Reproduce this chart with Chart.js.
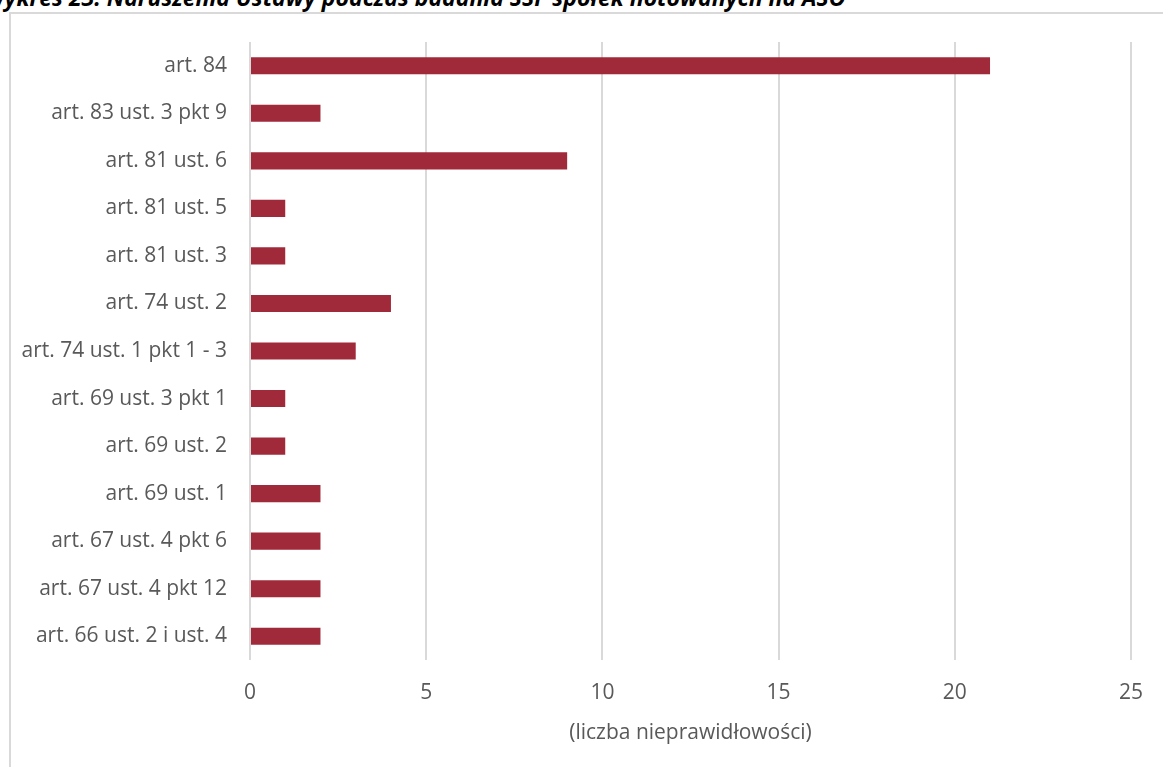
<!DOCTYPE html>
<html lang="pl">
<head>
<meta charset="utf-8">
<title>Naruszenia Ustawy</title>
<script src="https://cdn.jsdelivr.net/npm/chart.js@4.4.1/dist/chart.umd.min.js"></script>
<style>
  html, body { margin: 0; padding: 0; background: #fff; overflow: hidden; }
  #wrap { position: relative; width: 1163px; height: 767px; overflow: hidden; }
  #title {
    position: absolute; left: -16px; top: -14px; white-space: nowrap;
    font: italic bold 23px/23px "Open Sans", "Liberation Sans", sans-serif; color: #000;
  }
  #frame {
    position: absolute; left: 9px; top: 12px; width: 1200px; height: 800px;
    border: 2px solid #d9d9d9; box-sizing: border-box;
  }
  #myChart { position: absolute; left: 0; top: 0; }
</style>
</head>
<body>
<div id="wrap">
  <div id="frame"></div>
  <div id="title">Wykres 23. Naruszenia Ustawy podczas badania SSF spółek notowanych na ASO</div>
  <canvas id="myChart" width="1163" height="767"></canvas>
</div>
<script>
var categories = [
  "art. 84",
  "art. 83 ust. 3 pkt 9",
  "art. 81 ust. 6",
  "art. 81 ust. 5",
  "art. 81 ust. 3",
  "art. 74 ust. 2",
  "art. 74 ust. 1 pkt 1 - 3",
  "art. 69 ust. 3 pkt 1",
  "art. 69 ust. 2",
  "art. 69 ust. 1",
  "art. 67 ust. 4 pkt 6",
  "art. 67 ust. 4 pkt 12",
  "art. 66 ust. 2 i ust. 4"
];
var counts = [21, 2, 9, 1, 1, 4, 3, 1, 1, 2, 2, 2, 2];
var xTicks = [0, 5, 10, 15, 20, 25];
var axisTitle = "(liczba nieprawidłowości)";

var labelFont = { family: "'Open Sans', 'Liberation Sans', sans-serif", size: 21 };
var textColor = "#595959";

const ctx = document.getElementById("myChart").getContext("2d");

const myChart = new Chart(ctx, {
  type: "bar",
  data: {
    labels: categories,
    datasets: [
      {
        data: counts,
        backgroundColor: "#a12a3a",
        barPercentage: 0.36,
        categoryPercentage: 1,
      },
    ],
  },
  options: {
    indexAxis: "y",
    responsive: false,
    animation: false,
    layout: { padding: { top: 42, right: 30, left: 0, bottom: 0 } },
    plugins: {
      legend: { display: false },
      tooltip: { enabled: false },
    },
    scales: {
      x: {
        min: xTicks[0],
        max: xTicks[xTicks.length - 1],
        afterBuildTicks: function (scale) {
          scale.ticks = xTicks.map(function (v) { return { value: v }; });
        },
        afterFit: function (scale) {
          scale.height = 107; // room under the plot for ticks and title
        },
        grid: { color: "#d9d9d9", lineWidth: 2, drawTicks: false },
        border: { display: false },
        ticks: { color: textColor, font: labelFont, padding: 20 },
        title: {
          display: true,
          text: axisTitle,
          color: textColor,
          font: labelFont,
          padding: { top: 0, bottom: 21 },
        },
      },
      y: {
        afterFit: function (scale) {
          scale.width = 250; // left edge of the plot
        },
        grid: { display: false },
        border: { display: false },
        ticks: { color: textColor, font: labelFont, padding: 15 },
      },
    },
  },
});
</script>
</body>
</html>
